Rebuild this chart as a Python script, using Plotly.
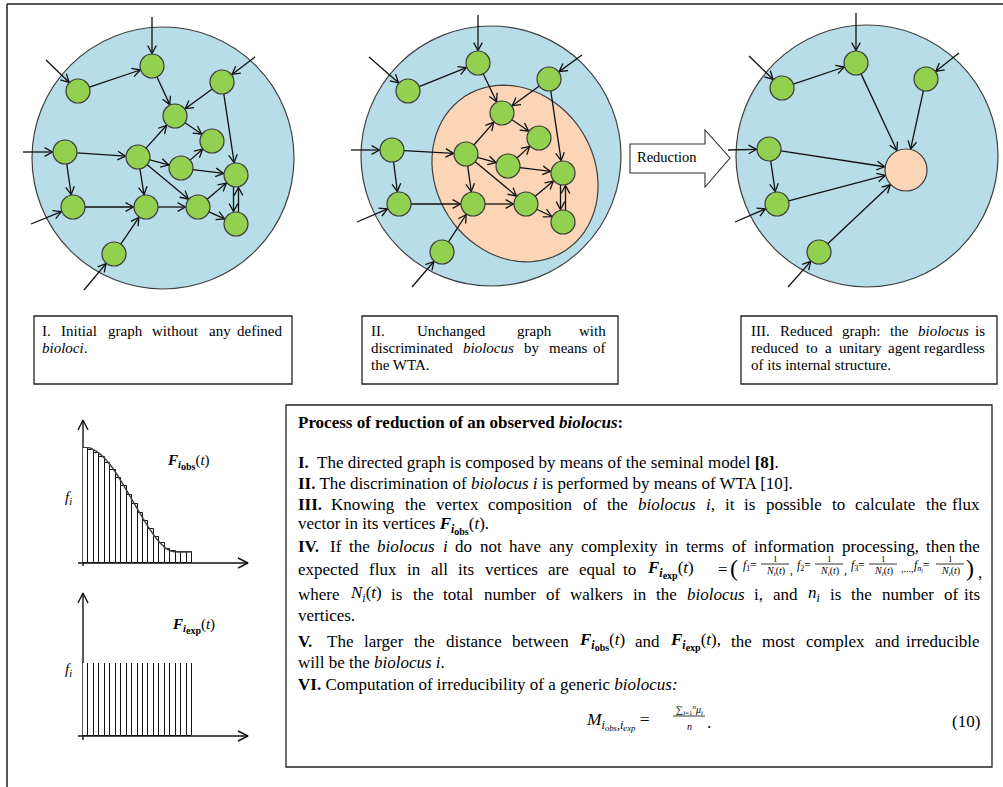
import math
import re
import plotly.graph_objects as go

W, H = 1003, 787
SERIF = "Liberation Serif"

# ---------------- data ----------------
node_ids = ["A", "B", "C", "D", "E", "F", "G", "H", "I", "J", "K", "L", "M", "N"]
p1_x = [152, 78, 222, 175, 212, 65, 138, 181, 236, 73, 146, 198, 236, 114]
p1_y = [66, 91, 82, 116, 141, 152, 157, 168, 175, 207, 207, 207, 224, 254]
p2_x = [478, 408, 549, 502, 539, 392, 466, 508, 563, 399, 473, 526, 563, 442]
p2_y = [63, 91, 79, 113, 138, 150, 154, 166, 173, 204, 204, 204, 222, 252]
graph_edges = [("B", "A"), ("A", "D"), ("C", "D"), ("C", "I"), ("D", "E"), ("F", "G"),
               ("F", "J"), ("G", "D"), ("G", "H"), ("G", "K"), ("G", "L"), ("H", "E"),
               ("H", "I"), ("J", "K"), ("K", "L"), ("N", "K"), ("L", "I"), ("L", "M")]
graph_double = [("I", "M")]
inputs_to = ["A", "B", "C", "F", "J", "N"]
p1_in_x = [152, 46, 255, 23, 31, 84]
p1_in_y = [17, 60, 57, 152, 224, 290]
p2_in_x = [478, 369, 582, 351, 357, 412]
p2_in_y = [15, 57, 55, 150, 222, 287]

p3_ids = ["A", "B", "C", "F", "J", "N", "R"]
p3_x = [856, 782, 926, 769, 777, 819, 906]
p3_y = [63, 88, 79, 149, 204, 252, 170]
p3_edges = [("B", "A"), ("F", "J"), ("A", "R"), ("C", "R"), ("F", "R"), ("J", "R"), ("N", "R")]
p3_in_x = [856, 749, 959, 728, 735, 788]
p3_in_y = [13, 56, 53, 150, 222, 287]

big_circles_cx = [163, 491, 867]
big_circles_cy = [158, 156, 156]
big_circles_r = [131, 130, 131]

obs_bars = [0.99, 0.975, 0.95, 0.91, 0.86, 0.80, 0.73, 0.66, 0.585, 0.51,
            0.435, 0.36, 0.29, 0.225, 0.17, 0.125, 0.10, 0.095, 0.095, 0.095]
obs_curve = [1.0, 0.995, 0.975, 0.945, 0.90, 0.845, 0.78, 0.705, 0.625, 0.545,
             0.465, 0.385, 0.31, 0.24, 0.18, 0.135, 0.105, 0.097, 0.095, 0.095, 0.097]
exp_bars = [1.0] * 20

GREEN = "#92D050"
BLUE = "#B7DDE8"
PEACH = "#FBD5B5"
EDGE = "#3a3a3a"

fig = go.Figure()
shapes = []
annotations = []

# ------------- helpers -------------
lx, ly = [], []


def arrow(x0, y0, x1, y1, s0, s1, off=0.0, hl=9.0, ang=0.5):
    dx, dy = x1 - x0, y1 - y0
    L = math.hypot(dx, dy)
    ux, uy = dx / L, dy / L
    px, py = -uy * off, ux * off
    sx, sy = x0 + ux * s0 + px, y0 + uy * s0 + py
    ex, ey = x1 - ux * s1 + px, y1 - uy * s1 + py
    lx.extend([sx, ex, None])
    ly.extend([sy, ey, None])
    bx, by = -ux, -uy
    pts = []
    for sg in (1, -1):
        c, s = math.cos(sg * ang), math.sin(sg * ang)
        pts.append((ex + hl * (bx * c - by * s), ey + hl * (bx * s + by * c)))
    lx.extend([pts[0][0], ex, pts[1][0], None])
    ly.extend([pts[0][1], ey, pts[1][1], None])


R_NODE = 12

for cx, cy, r in zip(big_circles_cx, big_circles_cy, big_circles_r):
    shapes.append(dict(type="circle", xref="x", yref="y", x0=cx - r, x1=cx + r,
                       y0=cy - r, y1=cy + r, fillcolor=BLUE,
                       line=dict(color="#404040", width=1.2), layer="below"))

ecx, ecy, ea, eb, eth = 515, 173.5, 92, 79, math.radians(57)
pts = []
for k in range(73):
    t = 2 * math.pi * k / 72
    px = ecx + ea * math.cos(t) * math.cos(eth) - eb * math.sin(t) * math.sin(eth)
    py = ecy + ea * math.cos(t) * math.sin(eth) + eb * math.sin(t) * math.cos(eth)
    pts.append(f"{px:.2f},{py:.2f}")
shapes.append(dict(type="path", xref="x", yref="y", path="M" + " L".join(pts) + " Z",
                   fillcolor=PEACH, line=dict(color="#404040", width=1.2), layer="below"))

for nx, ny, inx, iny in [(p1_x, p1_y, p1_in_x, p1_in_y), (p2_x, p2_y, p2_in_x, p2_in_y)]:
    pos = {k: (x, y) for k, x, y in zip(node_ids, nx, ny)}
    for a, b in graph_edges:
        arrow(*pos[a], *pos[b], R_NODE, R_NODE + 0.5)
    for a, b in graph_double:
        arrow(*pos[a], *pos[b], R_NODE, R_NODE + 0.5, off=2.5)
        arrow(*pos[b], *pos[a], R_NODE, R_NODE + 0.5, off=2.5)
    for t, sx, sy in zip(inputs_to, inx, iny):
        arrow(sx, sy, *pos[t], 0, R_NODE + 0.5)

pos3 = {k: (x, y) for k, x, y in zip(p3_ids, p3_x, p3_y)}
R_BIG = 21
for a, b in p3_edges:
    arrow(*pos3[a], *pos3[b], R_NODE, (R_BIG if b == "R" else R_NODE) + 0.5)
for t, sx, sy in zip(inputs_to, p3_in_x, p3_in_y):
    arrow(sx, sy, *pos3[t], 0, R_NODE + 0.5)

fig.add_trace(go.Scatter(x=lx, y=ly, mode="lines", line=dict(color="#111111", width=1.3),
                         hoverinfo="skip", showlegend=False))

allx = p1_x + p2_x + p3_x[:-1]
ally = p1_y + p2_y + p3_y[:-1]
fig.add_trace(go.Scatter(x=allx, y=ally, mode="markers",
                         marker=dict(size=24, color=GREEN, line=dict(color=EDGE, width=1.2)),
                         hoverinfo="skip", showlegend=False))
fig.add_trace(go.Scatter(x=[p3_x[-1]], y=[p3_y[-1]], mode="markers",
                         marker=dict(size=42, color=PEACH, line=dict(color=EDGE, width=1.2)),
                         hoverinfo="skip", showlegend=False))

shapes.append(dict(type="path", xref="x", yref="y",
                   path="M630,144 L705,144 L705,130 L730,158 L705,187 L705,173 L630,173 Z",
                   fillcolor="white", line=dict(color="#333333", width=1.1)))
annotations.append(dict(x=667, y=157, xref="x", yref="y", text="Reduction", showarrow=False,
                        font=dict(family=SERIF, size=14.5, color="black"),
                        xanchor="center", yanchor="middle"))

# ------------- frames & boxes -------------
shapes.append(dict(type="line", xref="x", yref="y", x0=7, y0=4, x1=1003, y1=4,
                   line=dict(color="#222222", width=1.5)))
shapes.append(dict(type="line", xref="x", yref="y", x0=7, y0=4, x1=7, y1=787,
                   line=dict(color="#222222", width=1.5)))
for x0, y0, x1, y1 in [(34, 316, 292, 384), (362, 316, 618, 384), (741, 316, 997, 384),
                       (286, 405, 992, 767)]:
    shapes.append(dict(type="rect", xref="x", yref="y", x0=x0, y0=y0, x1=x1, y1=y1,
                       fillcolor="rgba(0,0,0,0)", line=dict(color="#222222", width=1.3)))


def txt(x, y, s, size=14.5, anchor="left"):
    annotations.append(dict(x=x, y=y, xref="x", yref="y", text=s, showarrow=False,
                            font=dict(family=SERIF, size=size, color="black"),
                            xanchor=anchor, yanchor="middle"))


# approximate Times metrics (per 1000 em) for justified text
_TW = {" ": 250, ",": 250, ".": 250, ":": 278, ";": 278, "(": 333, ")": 333, "[": 333, "]": 333,
       "=": 564, "-": 333,
       "A": 722, "B": 667, "C": 667, "D": 722, "E": 611, "F": 556, "G": 722, "H": 722, "I": 333,
       "J": 389, "K": 722, "L": 611, "M": 889, "N": 722, "O": 722, "P": 556, "Q": 722, "R": 667,
       "S": 556, "T": 611, "U": 722, "V": 722, "W": 944, "X": 722, "Y": 722, "Z": 611,
       "a": 444, "b": 500, "c": 444, "d": 500, "e": 444, "f": 333, "g": 500, "h": 500, "i": 278,
       "j": 278, "k": 500, "l": 278, "m": 778, "n": 500, "o": 500, "p": 500, "q": 500, "r": 333,
       "s": 389, "t": 278, "u": 500, "v": 500, "w": 722, "x": 500, "y": 500, "z": 444}


def measure(markup, size):
    parts = re.split(r"(<[^>]+>)", markup)
    bold, stack, cur, w = 0, [], size, 0.0
    for p in parts:
        if not p:
            continue
        if p.startswith("<"):
            closing = p.startswith("</")
            tag = p.strip("<>/ ").split()[0].lower()
            if tag == "b":
                bold += -1 if closing else 1
            elif tag in ("sub", "sup"):
                if closing:
                    cur = stack.pop()
                else:
                    stack.append(cur)
                    cur = cur * 0.7
            elif tag == "span":
                if closing:
                    cur = stack.pop()
                else:
                    stack.append(cur)
                    m = re.search(r"font-size:\s*([\d.]+)px", p)
                    if m:
                        cur = float(m.group(1))
            continue
        for ch in p:
            cw = _TW.get(ch, 500) / 1000.0
            if bold > 0:
                cw *= 1.09
            w += cw * cur
    return w


def jline(line, y, x0, x1, size):
    toks = re.findall(r"(?:<[^>]*>|[^\s<])+", line)
    ws = [measure(t, size) for t in toks]
    gap = (x1 - x0 - sum(ws)) / max(1, len(toks) - 1)
    if gap < 0.25 * size:
        txt(x0, y, line, size)
        return
    x = x0
    for i, (t, w) in enumerate(zip(toks, ws)):
        if i == len(toks) - 1:
            txt(x1, y, t, size, "right")
        else:
            txt(x, y, t, size)
        x += w + gap


# small boxes
BS = 15
jline("I. Initial graph without any defined", 331, 40, 284, BS)
txt(40, 348, "<i>bioloci</i>.", BS)
jline("II. Unchanged graph with", 331, 369, 608, BS)
jline("discriminated <i>biolocus</i> by means of", 348, 369, 608, BS)
txt(369, 365, "the WTA.", BS)
jline("III. Reduced graph: the <i>biolocus</i> is", 331, 749, 987, BS)
jline("reduced to a unitary agent regardless", 348, 749, 987, BS)
txt(749, 365, "of its internal structure.", BS)

# main text box
FS = 17
LX, RX = 296, 982
SUBSZ = "<span style='font-size:10px'>"
FOBS = "<b><i>F</i></b><sub><b><i>i</i></b><sub>" + SUBSZ + "<b>obs</b></span></sub></sub>(<i>t</i>)"
FEXP = "<b><i>F</i></b><sub><b><i>i</i></b><sub>" + SUBSZ + "<b>exp</b></span></sub></sub>(<i>t</i>)"

txt(LX, 422, "<b>Process of reduction of an observed <i>biolocus</i>:</b>", FS)
txt(LX, 462, "<b>I.</b>  The directed graph is composed by means of the seminal model <b>[8]</b>.", FS)
txt(LX, 483, "<b>II.</b> The discrimination of <i>biolocus i</i> is performed by means of WTA [10].", FS)
jline("<b>III.</b> Knowing the vertex composition of the <i>biolocus</i> <i>i</i>, it is possible to calculate the flux",
      504, LX, RX, FS)
txt(LX, 525, "vector in its vertices " + FOBS + ".", FS)
jline("<b>IV.</b> If the <i>biolocus</i> <i>i</i> do not have any complexity in terms of information processing, then the",
      546, LX, RX, FS)
jline("expected flux in all its vertices are equal to", 569, LX, 638, FS)
txt(645, 569, FEXP, FS)
txt(723, 569, "=", FS, anchor="center")
txt(734, 568, "(", 24, anchor="center")
fr_centers = [775, 829, 883, 950]
f_lbl = [(741, "<i>f</i><sub>1</sub>="), (795, "<i>f</i><sub>2</sub>="),
         (849, "<i>f</i><sub>3</sub>="), (912, "<i>f</i><sub><i>n<sub>i</sub></i></sub>=")]
for (fx, fl) in f_lbl:
    txt(fx, 566, fl, 11.5)
for c in fr_centers:
    txt(c, 559, "1", 9, anchor="center")
    shapes.append(dict(type="line", xref="x", yref="y", x0=c - 14, x1=c + 14, y0=564, y1=564,
                       line=dict(color="black", width=0.8)))
    txt(c, 571, "<i>N<sub>i</sub></i>(<i>t</i>)", 10, anchor="center")
txt(791, 570, ",", 11.5, anchor="center")
txt(845, 570, ",", 11.5, anchor="center")
txt(899, 568, ",...,", 10, anchor="left")
txt(970, 568, ")", 24, anchor="center")
txt(976, 572, ",", FS, anchor="left")
jline("where <i>N<sub>i</sub></i>(<i>t</i>) is the total number of walkers in the <i>biolocus</i> i, and <i>n<sub>i</sub></i> is the number of its",
      594, LX, RX, FS)
txt(LX, 615, "vertices.", FS)
jline("<b>V.</b> The larger the distance between " + FOBS + " and " + FEXP + ", the most complex and irreducible",
      641, LX, RX, FS)
txt(LX, 662, "will be the <i>biolocus i</i>.", FS)
txt(LX, 684, "<b>VI.</b> Computation of irreducibility of a generic <i>biolocus:</i>", FS)

# equation (10)
txt(584, 721, "<i>M</i><sub><i>i</i><sub><i>obs</i></sub>,<i>i</i><sub><i>exp</i></sub></sub> =", 17.5)
txt(689, 710, "∑<sub><i>i</i>=1</sub><sup><i>n</i></sup><i>μ</i><sub><i>i</i></sub>", 10, anchor="center")
shapes.append(dict(type="line", xref="x", yref="y", x0=673, x1=705, y0=716, y1=716,
                   line=dict(color="black", width=0.8)))
txt(689, 726, "<i>n</i>", 10, anchor="center")
txt(705, 722, ".", 17)
txt(RX, 721, "(10)", FS, anchor="right")

# ------------- mini charts -------------
def dom_x(p0, p1):
    return [p0 / W, p1 / W]


def dom_y(ptop, pbot):
    return [1 - pbot / H, 1 - ptop / H]


centers = [i + 0.5 for i in range(20)]
fig.add_trace(go.Bar(x=centers, y=obs_bars, width=1, xaxis="x2", yaxis="y2",
                     marker=dict(color="white", line=dict(color="#111111", width=1)),
                     hoverinfo="skip", showlegend=False))
fig.add_trace(go.Scatter(x=list(range(21)), y=obs_curve, xaxis="x2", yaxis="y2", mode="lines",
                         line=dict(color="#444444", width=1.5, shape="spline"),
                         hoverinfo="skip", showlegend=False, cliponaxis=False))
fig.add_trace(go.Bar(x=centers, y=exp_bars, width=1, xaxis="x3", yaxis="y3",
                     marker=dict(color="white", line=dict(color="#111111", width=1)),
                     hoverinfo="skip", showlegend=False))

ax_x, ax_y = [], []
for (yx0, yy0, yy1, xy, xx1) in [(83, 566, 420, 563, 248), (83, 740, 593, 736, 248)]:
    ax_x.extend([yx0, yx0, None, yx0 - 5, yx0, yx0 + 5, None])
    ax_y.extend([yy0, yy1, None, yy1 + 10, yy1, yy1 + 10, None])
    ax_x.extend([78, xx1, None, xx1 - 10, xx1, xx1 - 10, None])
    ax_y.extend([xy, xy, None, xy - 5, xy, xy + 5, None])
fig.add_trace(go.Scatter(x=ax_x, y=ax_y, mode="lines", line=dict(color="#111111", width=1.4),
                         hoverinfo="skip", showlegend=False))

txt(63, 498, "<i>f<sub>i</sub></i>", 15)
txt(63, 670, "<i>f<sub>i</sub></i>", 15)
txt(165, 462, FOBS, 15)
txt(170, 626, FEXP, 15)

fig.update_layout(
    width=W, height=H, margin=dict(l=0, r=0, t=0, b=0),
    paper_bgcolor="white", plot_bgcolor="white", hovermode=False,
    showlegend=False, bargap=0,
    xaxis=dict(range=[0, W], visible=False, domain=[0, 1], fixedrange=True),
    yaxis=dict(range=[H, 0], visible=False, domain=[0, 1], fixedrange=True),
    xaxis2=dict(range=[0, 20], domain=dom_x(83, 192), visible=False, anchor="y2", fixedrange=True),
    yaxis2=dict(range=[0, 1], domain=dom_y(447, 563), visible=False, anchor="x2", fixedrange=True),
    xaxis3=dict(range=[0, 20], domain=dom_x(83, 192), visible=False, anchor="y3", fixedrange=True),
    yaxis3=dict(range=[0, 1], domain=dom_y(663, 736), visible=False, anchor="x3", fixedrange=True),
    shapes=shapes, annotations=annotations,
)

fig.write_html("out.html", config={"displayModeBar": False},
               post_script="document.body.style.margin='0px';document.body.style.overflow='hidden';")
